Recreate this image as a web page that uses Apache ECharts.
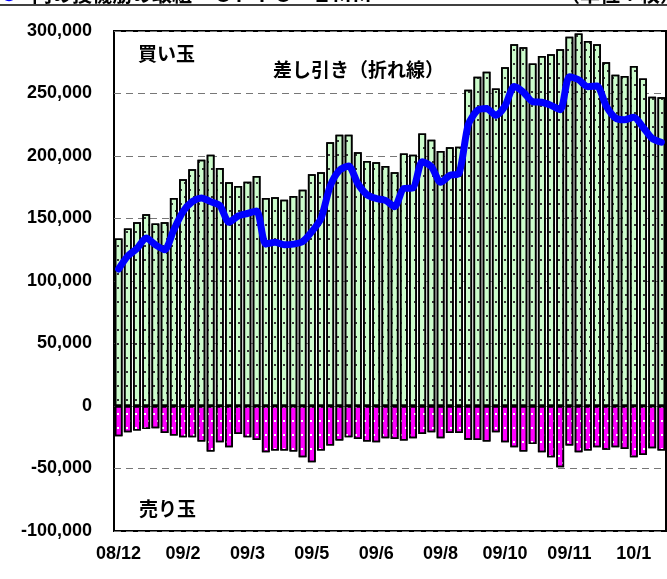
<!DOCTYPE html>
<html lang="ja">
<head>
<meta charset="UTF-8">
<title>投機筋の取組</title>
<style>
  html, body { margin: 0; padding: 0; background: #fff; }
  #container { width: 667px; height: 579px; }
</style>
<script src="https://cdn.jsdelivr.net/npm/echarts@6/dist/echarts.min.js"></script>
</head>
<body>
<div id="container"></div>
<script>
// weekly data, 60 weeks
var tickLabels = ['08/12', '09/2', '09/3', '09/5', '09/6', '09/8', '09/10', '09/11', '10/1'];

// 買い玉
var buy = [
  134000, 142000, 147000, 153500, 146000, 147000, 166500, 181500, 189500, 197000,
  201000, 190500, 179000, 176000, 179500, 184000, 166500, 167000, 165000, 168000,
  173000, 185500, 187000, 211000, 217000, 217000, 203000, 196000, 195000, 192000,
  187000, 202000, 201000, 218000, 213000, 204000, 207000, 207500, 253000, 263500,
  267500, 254000, 271000, 289500, 287000, 274000, 280000, 281500, 285500, 295500,
  298000, 292000, 289500, 275000, 265000, 264000, 272000, 262000, 247500, 247000
];

// 売り玉
var sell = [
  -24300, -21000, -19700, -18400, -17900, -21600, -23700, -25000, -25000, -28500,
  -36500, -29000, -33000, -22400, -25000, -27200, -37000, -35700, -35700, -36500,
  -41000, -45000, -35700, -31700, -27700, -25000, -26400, -28500, -29000, -25900,
  -26400, -27700, -25900, -22400, -21000, -25900, -21600, -21600, -27000, -27200,
  -28500, -21000, -29000, -33000, -36500, -30400, -37000, -41000, -49000, -31700,
  -37000, -35700, -33000, -35000, -33000, -34400, -41000, -39200, -33800, -35700
];

// 差し引き
var net = [
  109600, 120000, 126000, 134500, 129000, 125000, 141000, 155500, 163500, 166500,
  163500, 160500, 147000, 152000, 154000, 156000, 129500, 131000, 129000, 129500,
  131500, 139500, 150000, 176000, 188500, 192000, 178000, 169000, 166000, 164500,
  159500, 174000, 174500, 195500, 191500, 179000, 184500, 186000, 225000, 236500,
  238000, 232500, 240000, 255500, 251000, 243500, 243000, 240500, 237000, 263500,
  261000, 255500, 256000, 240000, 230500, 229000, 231000, 223000, 214000, 211000
];

var categories = buy.map(function (v, i) {
  return i % 7 === 0 ? tickLabels[i / 7] : '';
});

var numFont = 'Liberation Sans, Arial, sans-serif';
var jpFont = 'Noto Sans CJK JP, sans-serif';

// sparse staggered dots
function dots(c) {
  return {
    symbol: 'rect',
    symbolSize: 1,
    color: c,
    dashArrayX: [[1.5, 6.5], [0, 4, 1.5, 2.5]],
    dashArrayY: [1.5, 4.5]
  };
}

var chart = echarts.init(document.getElementById('container'));

var option = {
  animation: false,
  backgroundColor: '#fff',
  grid: {
    left: 114, right: 1, top: 31, bottom: 48,
    show: true, borderColor: '#000', borderWidth: 2, backgroundColor: 'transparent'
  },
  xAxis: {
    type: 'category',
    data: categories,
    axisLine: { show: false },
    axisTick: { show: false },
    axisLabel: {
      interval: 6,
      margin: 14,
      color: '#000',
      fontFamily: numFont,
      fontWeight: 'bold',
      fontSize: 18
    },
    splitLine: { show: false }
  },
  yAxis: {
    type: 'value',
    min: -100000,
    max: 300000,
    interval: 50000,
    axisLine: { show: false },
    axisTick: { show: false },
    axisLabel: {
      margin: 22,
      color: '#000',
      fontFamily: numFont,
      fontWeight: 'bold',
      fontSize: 18,
      formatter: function (v) { return v.toLocaleString('en-US'); }
    },
    splitLine: { lineStyle: { color: '#777', width: 1, type: [7, 5] } }
  },
  series: [
    {
      name: '買い玉',
      type: 'bar',
      data: buy,
      barWidth: '85%',
      barGap: '-100%',
      itemStyle: {
        color: '#ccfccc',
        borderColor: '#000',
        borderWidth: 1.6,
        decal: dots('#333')
      }
    },
    {
      name: '売り玉',
      type: 'bar',
      data: sell,
      barWidth: '85%',
      barGap: '-100%',
      itemStyle: {
        color: '#ff00ff',
        borderColor: '#000',
        borderWidth: 1.6,
        decal: dots('#fff')
      }
    },
    {
      name: '差し引き',
      type: 'line',
      data: net,
      smooth: 0.25,
      showSymbol: false,
      z: 5,
      lineStyle: { color: '#0000ff', width: 7, cap: 'round', join: 'round' }
    }
  ],
  graphic: [
    { type: 'line', shape: { x1: 0, y1: 5, x2: 667, y2: 5 }, style: { stroke: '#000', lineWidth: 1.5 } },
    { type: 'text', left: 0, top: -16, style: { text: '●', fill: '#0000ff', font: 'bold 18px ' + jpFont } },
    { type: 'text', left: 32, top: -16, style: { text: '円の投機筋の取組　ＣＦＴＣ－ＩＭＭ', fill: '#000', font: 'bold 20px ' + jpFont } },
    { type: 'text', left: 560, top: -16, style: { text: '（単位：枚）', fill: '#000', font: 'bold 20px ' + jpFont } },
    { type: 'text', left: 138, top: 44, style: { text: '買い玉', fill: '#000', font: 'bold 19px ' + jpFont } },
    { type: 'text', left: 273, top: 60, style: { text: '差し引き（折れ線）', fill: '#000', font: 'bold 19px ' + jpFont } },
    { type: 'text', left: 139, top: 499, style: { text: '売り玉', fill: '#000', font: 'bold 19px ' + jpFont } }
  ]
};

chart.setOption(option);
</script>
</body>
</html>
